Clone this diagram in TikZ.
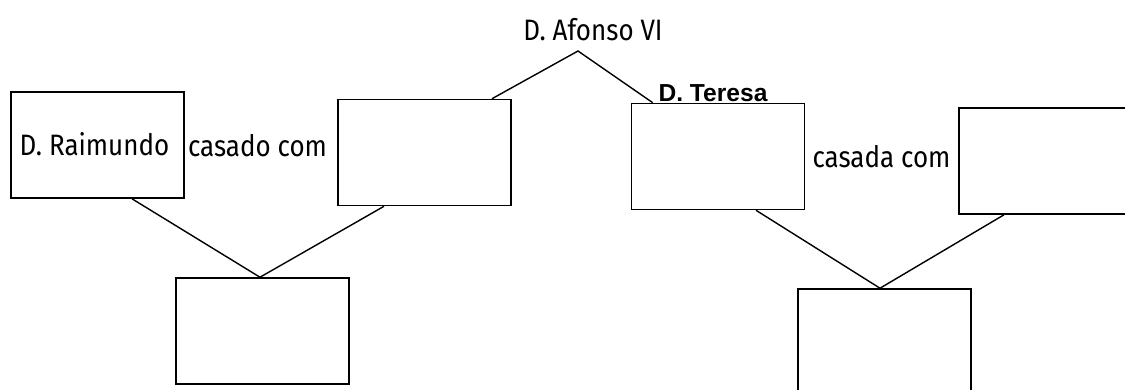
\documentclass[tikz,border=0pt]{standalone}
\usepackage{fontspec}
\newfontfamily\handfont[FakeStretch=0.88]{Fira Sans}
\newfontfamily\boldsans{Liberation Sans}
\usetikzlibrary{calc}
\tikzset{
  px/.style={x=0.02cm,y=-0.02cm},
  blank/.style={draw,line width=0.9pt,minimum width=3.46cm,minimum height=2.12cm,inner sep=0pt},
  link/.style={line width=0.8pt},
  label/.style={font=\handfont\fontsize{16.8}{20}\selectfont,inner sep=0pt,anchor=base}
}
\begin{document}
\begin{tikzpicture}[px]
\useasboundingbox (0,0) rectangle (1125,389);
\fill[white] (0,0) rectangle (1125,389);
\clip (0,0) rectangle (1125,389);
% boxes
\node[blank] (A) at (97.5,145) {};
\node[blank] (B) at (424.5,152.5) {};
\node[blank] (C) at (262.5,331) {};
\node[blank] (D) at (718,156.5) {};
\node[blank,minimum width=4cm] (E) at (1059,161) {};
\node[blank] (F) at (884.5,342) {};
% texts
\node[label] (tA) at (94.5,155) {D. Raimundo};
\node[label] (t1) at (257.5,156) {casado com};
\node[label] (t2) at (881.5,167) {casada com};
\node[label] (af) at (593,40) {D. Afonso VI};
\node[font=\boldsans\bfseries\fontsize{14}{16}\selectfont,inner sep=0pt,anchor=base] (te) at (713,101) {D. Teresa};
% connectors
\coordinate (apex) at (578,51);
\draw[link] ([xshift=1.35cm]B.north) -- (apex) -- ([xshift=0.44cm]D.north west);
\draw[link] ([xshift=0.69cm]A.south) -- ([xshift=-0.05cm]C.north) -- ([xshift=-0.81cm]B.south);
\draw[link] ([xshift=0.76cm]D.south) -- ([xshift=-0.09cm]F.north) -- ([xshift=-1.1cm]E.south);
\end{tikzpicture}
\end{document}
